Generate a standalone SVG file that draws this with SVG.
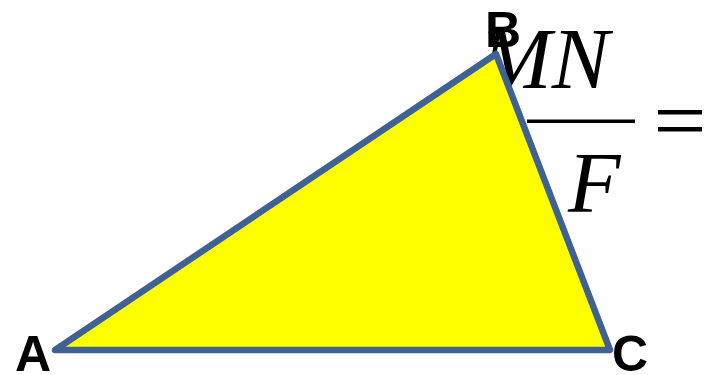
<svg xmlns="http://www.w3.org/2000/svg" width="716" height="375" viewBox="0 0 716 375">
<style>
.lbl{font-family:"Liberation Sans",Arial,sans-serif;font-weight:bold;font-size:50px;fill:#000}
.math{font-family:"Liberation Serif","Times New Roman",serif;font-style:italic;font-size:86px;fill:#000}
</style>
<rect width="716" height="375" fill="#fff"/>
<g id="formula">
<text class="math" x="480" y="88">MN</text>
<rect x="527" y="119.5" width="108" height="3.5" fill="#000"/>
<text class="math" x="568" y="212">F</text>
<rect x="658" y="110" width="44" height="4.5" fill="#000"/>
<rect x="658" y="127" width="44" height="4.5" fill="#000"/>
</g>
<g id="triangle">
<polygon points="55,350 496,54 610,350" fill="#ffff00" stroke="#3f6193" stroke-width="6.5" stroke-linejoin="round"/>
</g>
<g id="labels">
<text class="lbl" x="15" y="371">A</text>
<text class="lbl" x="485" y="47">B</text>
<text class="lbl" x="612" y="371">C</text>
</g>
</svg>
